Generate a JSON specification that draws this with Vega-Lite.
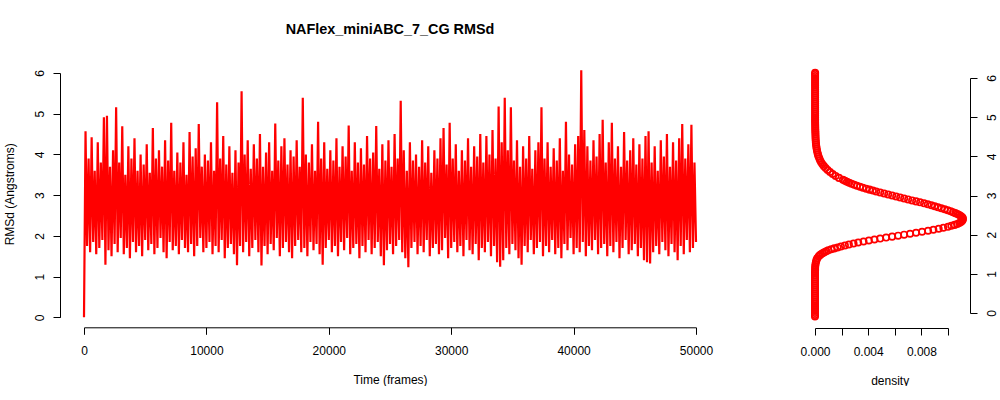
{
  "$schema": "https://vega.github.io/schema/vega-lite/v6.json",
  "padding": {"left": 3, "top": 22, "right": 0, "bottom": 0},
  "background": "white",
  "bounds": "flush",
  "spacing": 119,
  "config": {
    "view": {"stroke": null},
    "font": "Liberation Sans",
    "axis": {"grid": false, "domainColor": "#000", "tickColor": "#000", "labelColor": "#000", "titleColor": "#000", "labelFontSize": 12, "titleFontSize": 12, "titleFontWeight": "normal", "tickSize": 7, "domainWidth": 1, "tickWidth": 1, "labelFont": "Liberation Sans", "titleFont": "Liberation Sans", "labelFlush": false, "labelOverlap": false}
  },
  "datasets": {
    "ts": [
{"frame":0,"rmsd":0},{"frame":125,"rmsd":4.57},{"frame":250,"rmsd":1.75},{"frame":375,"rmsd":3.9},{"frame":500,"rmsd":1.6},{"frame":625,"rmsd":4.42},{"frame":750,"rmsd":1.85},{"frame":875,"rmsd":3.6},{"frame":1000,"rmsd":1.55},{"frame":1125,"rmsd":4.3},{"frame":1250,"rmsd":1.7},{"frame":1375,"rmsd":3.8},{"frame":1500,"rmsd":1.9},{"frame":1625,"rmsd":4.91},{"frame":1750,"rmsd":1.29},{"frame":1875,"rmsd":4.95},{"frame":2000,"rmsd":1.65},{"frame":2125,"rmsd":3.7},{"frame":2250,"rmsd":1.5},{"frame":2375,"rmsd":4.1},{"frame":2500,"rmsd":1.8},
{"frame":2625,"rmsd":5.16},{"frame":2750,"rmsd":1.6},{"frame":2875,"rmsd":3.8},{"frame":3000,"rmsd":1.95},{"frame":3125,"rmsd":4.69},{"frame":3250,"rmsd":1.55},{"frame":3375,"rmsd":3.5},{"frame":3500,"rmsd":1.7},{"frame":3625,"rmsd":4.2},{"frame":3750,"rmsd":1.45},{"frame":3875,"rmsd":3.9},{"frame":4000,"rmsd":1.85},{"frame":4125,"rmsd":4.4},{"frame":4250,"rmsd":1.6},{"frame":4375,"rmsd":3.6},{"frame":4500,"rmsd":1.75},{"frame":4625,"rmsd":4.0},{"frame":4750,"rmsd":1.5},{"frame":4875,"rmsd":3.75},{"frame":5000,"rmsd":1.9},
{"frame":5125,"rmsd":4.25},{"frame":5250,"rmsd":1.65},{"frame":5375,"rmsd":3.55},{"frame":5500,"rmsd":1.8},{"frame":5625,"rmsd":4.65},{"frame":5750,"rmsd":1.55},{"frame":5875,"rmsd":3.9},{"frame":6000,"rmsd":1.7},{"frame":6125,"rmsd":4.1},{"frame":6250,"rmsd":1.95},{"frame":6375,"rmsd":3.7},{"frame":6500,"rmsd":1.6},{"frame":6625,"rmsd":4.35},{"frame":6750,"rmsd":1.45},{"frame":6875,"rmsd":3.85},{"frame":7000,"rmsd":1.85},{"frame":7125,"rmsd":4.78},{"frame":7250,"rmsd":1.65},{"frame":7375,"rmsd":3.6},{"frame":7500,"rmsd":1.75},
{"frame":7625,"rmsd":4.05},{"frame":7750,"rmsd":1.55},{"frame":7875,"rmsd":3.8},{"frame":8000,"rmsd":1.9},{"frame":8125,"rmsd":4.3},{"frame":8250,"rmsd":1.7},{"frame":8375,"rmsd":3.5},{"frame":8500,"rmsd":1.6},{"frame":8625,"rmsd":4.55},{"frame":8750,"rmsd":1.8},{"frame":8875,"rmsd":3.95},{"frame":9000,"rmsd":1.5},{"frame":9125,"rmsd":4.15},{"frame":9250,"rmsd":1.75},{"frame":9375,"rmsd":4.75},{"frame":9500,"rmsd":1.95},{"frame":9625,"rmsd":3.7},{"frame":9750,"rmsd":1.6},{"frame":9875,"rmsd":4.0},{"frame":10000,"rmsd":1.7},
{"frame":10125,"rmsd":3.85},{"frame":10250,"rmsd":1.85},{"frame":10375,"rmsd":4.3},{"frame":10500,"rmsd":1.55},{"frame":10625,"rmsd":3.6},{"frame":10750,"rmsd":1.75},{"frame":10875,"rmsd":5.28},{"frame":11000,"rmsd":1.6},{"frame":11125,"rmsd":3.9},{"frame":11250,"rmsd":1.9},{"frame":11375,"rmsd":4.45},{"frame":11500,"rmsd":1.45},{"frame":11625,"rmsd":3.75},{"frame":11750,"rmsd":1.7},{"frame":11875,"rmsd":4.2},{"frame":12000,"rmsd":1.8},{"frame":12125,"rmsd":3.55},{"frame":12250,"rmsd":1.55},{"frame":12375,"rmsd":4.1},{"frame":12500,"rmsd":1.28},
{"frame":12625,"rmsd":3.8},{"frame":12750,"rmsd":1.75},{"frame":12875,"rmsd":5.55},{"frame":13000,"rmsd":1.6},{"frame":13125,"rmsd":4.0},{"frame":13250,"rmsd":1.85},{"frame":13375,"rmsd":4.35},{"frame":13500,"rmsd":1.5},{"frame":13625,"rmsd":3.65},{"frame":13750,"rmsd":1.7},{"frame":13875,"rmsd":4.25},{"frame":14000,"rmsd":1.9},{"frame":14125,"rmsd":3.9},{"frame":14250,"rmsd":1.6},{"frame":14375,"rmsd":4.5},{"frame":14500,"rmsd":1.27},{"frame":14625,"rmsd":3.7},{"frame":14750,"rmsd":1.75},{"frame":14875,"rmsd":4.05},{"frame":15000,"rmsd":1.55},
{"frame":15125,"rmsd":4.3},{"frame":15250,"rmsd":1.8},{"frame":15375,"rmsd":3.6},{"frame":15500,"rmsd":1.65},{"frame":15625,"rmsd":4.76},{"frame":15750,"rmsd":1.95},{"frame":15875,"rmsd":3.85},{"frame":16000,"rmsd":1.5},{"frame":16125,"rmsd":4.2},{"frame":16250,"rmsd":1.7},{"frame":16375,"rmsd":4.4},{"frame":16500,"rmsd":1.85},{"frame":16625,"rmsd":3.75},{"frame":16750,"rmsd":1.6},{"frame":16875,"rmsd":4.1},{"frame":17000,"rmsd":1.45},{"frame":17125,"rmsd":3.95},{"frame":17250,"rmsd":1.75},{"frame":17375,"rmsd":4.35},{"frame":17500,"rmsd":1.9},
{"frame":17625,"rmsd":3.7},{"frame":17750,"rmsd":1.6},{"frame":17875,"rmsd":5.39},{"frame":18000,"rmsd":1.7},{"frame":18125,"rmsd":4.0},{"frame":18250,"rmsd":1.5},{"frame":18375,"rmsd":3.8},{"frame":18500,"rmsd":1.85},{"frame":18625,"rmsd":4.25},{"frame":18750,"rmsd":1.65},{"frame":18875,"rmsd":3.6},{"frame":19000,"rmsd":1.8},{"frame":19125,"rmsd":4.8},{"frame":19250,"rmsd":1.55},{"frame":19375,"rmsd":3.9},{"frame":19500,"rmsd":1.29},{"frame":19625,"rmsd":4.3},{"frame":19750,"rmsd":1.7},{"frame":19875,"rmsd":3.65},{"frame":20000,"rmsd":1.9},
{"frame":20125,"rmsd":4.1},{"frame":20250,"rmsd":1.6},{"frame":20375,"rmsd":3.85},{"frame":20500,"rmsd":1.75},{"frame":20625,"rmsd":4.4},{"frame":20750,"rmsd":1.5},{"frame":20875,"rmsd":3.7},{"frame":21000,"rmsd":1.85},{"frame":21125,"rmsd":4.2},{"frame":21250,"rmsd":1.65},{"frame":21375,"rmsd":3.95},{"frame":21500,"rmsd":1.95},{"frame":21625,"rmsd":4.71},{"frame":21750,"rmsd":1.55},{"frame":21875,"rmsd":3.6},{"frame":22000,"rmsd":1.7},{"frame":22125,"rmsd":4.3},{"frame":22250,"rmsd":1.8},{"frame":22375,"rmsd":3.8},{"frame":22500,"rmsd":1.45},
{"frame":22625,"rmsd":4.15},{"frame":22750,"rmsd":1.75},{"frame":22875,"rmsd":3.75},{"frame":23000,"rmsd":1.6},{"frame":23125,"rmsd":4.45},{"frame":23250,"rmsd":1.9},{"frame":23375,"rmsd":3.9},{"frame":23500,"rmsd":1.55},{"frame":23625,"rmsd":4.05},{"frame":23750,"rmsd":1.7},{"frame":23875,"rmsd":4.7},{"frame":24000,"rmsd":1.85},{"frame":24125,"rmsd":3.65},{"frame":24250,"rmsd":1.5},{"frame":24375,"rmsd":4.25},{"frame":24500,"rmsd":1.28},{"frame":24625,"rmsd":3.85},{"frame":24750,"rmsd":1.65},{"frame":24875,"rmsd":4.35},{"frame":25000,"rmsd":1.8},
{"frame":25125,"rmsd":3.7},{"frame":25250,"rmsd":1.55},{"frame":25375,"rmsd":4.5},{"frame":25500,"rmsd":1.75},{"frame":25625,"rmsd":3.9},{"frame":25750,"rmsd":1.9},{"frame":25875,"rmsd":5.32},{"frame":26000,"rmsd":1.6},{"frame":26125,"rmsd":4.1},{"frame":26250,"rmsd":1.45},{"frame":26375,"rmsd":3.6},{"frame":26500,"rmsd":1.23},{"frame":26625,"rmsd":4.3},{"frame":26750,"rmsd":1.7},{"frame":26875,"rmsd":3.85},{"frame":27000,"rmsd":1.85},{"frame":27125,"rmsd":4.0},{"frame":27250,"rmsd":1.55},{"frame":27375,"rmsd":3.7},{"frame":27500,"rmsd":1.75},
{"frame":27625,"rmsd":4.35},{"frame":27750,"rmsd":1.6},{"frame":27875,"rmsd":3.8},{"frame":28000,"rmsd":1.9},{"frame":28125,"rmsd":4.2},{"frame":28250,"rmsd":1.5},{"frame":28375,"rmsd":3.55},{"frame":28500,"rmsd":1.7},{"frame":28625,"rmsd":4.1},{"frame":28750,"rmsd":1.8},{"frame":28875,"rmsd":3.9},{"frame":29000,"rmsd":1.55},{"frame":29125,"rmsd":4.4},{"frame":29250,"rmsd":1.65},{"frame":29375,"rmsd":4.65},{"frame":29500,"rmsd":1.95},{"frame":29625,"rmsd":3.75},{"frame":29750,"rmsd":1.45},{"frame":29875,"rmsd":4.78},{"frame":30000,"rmsd":1.7},
{"frame":30125,"rmsd":3.9},{"frame":30250,"rmsd":1.85},{"frame":30375,"rmsd":4.25},{"frame":30500,"rmsd":1.6},{"frame":30625,"rmsd":3.6},{"frame":30750,"rmsd":1.75},{"frame":30875,"rmsd":4.1},{"frame":31000,"rmsd":1.5},{"frame":31125,"rmsd":3.85},{"frame":31250,"rmsd":1.9},{"frame":31375,"rmsd":4.4},{"frame":31500,"rmsd":1.65},{"frame":31625,"rmsd":3.7},{"frame":31750,"rmsd":1.55},{"frame":31875,"rmsd":4.2},{"frame":32000,"rmsd":1.8},{"frame":32125,"rmsd":3.95},{"frame":32250,"rmsd":1.4},{"frame":32375,"rmsd":4.5},{"frame":32500,"rmsd":1.7},
{"frame":32625,"rmsd":3.8},{"frame":32750,"rmsd":1.6},{"frame":32875,"rmsd":4.45},{"frame":33000,"rmsd":1.85},{"frame":33125,"rmsd":4.0},{"frame":33250,"rmsd":1.5},{"frame":33375,"rmsd":4.6},{"frame":33500,"rmsd":1.75},{"frame":33625,"rmsd":3.9},{"frame":33750,"rmsd":1.35},{"frame":33875,"rmsd":5.18},{"frame":34000,"rmsd":1.24},{"frame":34125,"rmsd":4.3},{"frame":34250,"rmsd":1.4},{"frame":34375,"rmsd":5.39},{"frame":34500,"rmsd":1.7},{"frame":34625,"rmsd":4.1},{"frame":34750,"rmsd":1.55},{"frame":34875,"rmsd":5.16},{"frame":35000,"rmsd":1.8},
{"frame":35125,"rmsd":3.85},{"frame":35250,"rmsd":1.65},{"frame":35375,"rmsd":4.35},{"frame":35500,"rmsd":1.45},{"frame":35625,"rmsd":3.7},{"frame":35750,"rmsd":1.29},{"frame":35875,"rmsd":4.2},{"frame":36000,"rmsd":1.75},{"frame":36125,"rmsd":3.9},{"frame":36250,"rmsd":1.6},{"frame":36375,"rmsd":4.45},{"frame":36500,"rmsd":1.9},{"frame":36625,"rmsd":3.65},{"frame":36750,"rmsd":1.55},{"frame":36875,"rmsd":4.1},{"frame":37000,"rmsd":1.7},{"frame":37125,"rmsd":4.3},{"frame":37250,"rmsd":1.85},{"frame":37375,"rmsd":5.16},{"frame":37500,"rmsd":1.5},
{"frame":37625,"rmsd":3.9},{"frame":37750,"rmsd":1.75},{"frame":37875,"rmsd":4.3},{"frame":38000,"rmsd":1.6},{"frame":38125,"rmsd":3.7},{"frame":38250,"rmsd":1.9},{"frame":38375,"rmsd":4.15},{"frame":38500,"rmsd":1.55},{"frame":38625,"rmsd":3.85},{"frame":38750,"rmsd":1.7},{"frame":38875,"rmsd":4.4},{"frame":39000,"rmsd":1.45},{"frame":39125,"rmsd":3.6},{"frame":39250,"rmsd":1.8},{"frame":39375,"rmsd":4.8},{"frame":39500,"rmsd":1.65},{"frame":39625,"rmsd":4.0},{"frame":39750,"rmsd":1.95},{"frame":39875,"rmsd":3.75},{"frame":40000,"rmsd":1.55},
{"frame":40125,"rmsd":4.25},{"frame":40250,"rmsd":1.7},{"frame":40375,"rmsd":4.45},{"frame":40500,"rmsd":1.6},{"frame":40625,"rmsd":6.07},{"frame":40750,"rmsd":1.85},{"frame":40875,"rmsd":4.6},{"frame":41000,"rmsd":1.5},{"frame":41125,"rmsd":4.2},{"frame":41250,"rmsd":1.75},{"frame":41375,"rmsd":3.85},{"frame":41500,"rmsd":1.65},{"frame":41625,"rmsd":4.35},{"frame":41750,"rmsd":1.9},{"frame":41875,"rmsd":3.95},{"frame":42000,"rmsd":1.55},{"frame":42125,"rmsd":4.5},{"frame":42250,"rmsd":1.7},{"frame":42375,"rmsd":4.85},{"frame":42500,"rmsd":1.8},
{"frame":42625,"rmsd":3.8},{"frame":42750,"rmsd":1.5},{"frame":42875,"rmsd":4.3},{"frame":43000,"rmsd":1.75},{"frame":43125,"rmsd":4.78},{"frame":43250,"rmsd":1.6},{"frame":43375,"rmsd":3.9},{"frame":43500,"rmsd":1.85},{"frame":43625,"rmsd":4.2},{"frame":43750,"rmsd":1.45},{"frame":43875,"rmsd":3.7},{"frame":44000,"rmsd":1.7},{"frame":44125,"rmsd":4.55},{"frame":44250,"rmsd":1.9},{"frame":44375,"rmsd":3.85},{"frame":44500,"rmsd":1.55},{"frame":44625,"rmsd":4.1},{"frame":44750,"rmsd":1.65},{"frame":44875,"rmsd":4.4},{"frame":45000,"rmsd":1.8},
{"frame":45125,"rmsd":3.75},{"frame":45250,"rmsd":1.5},{"frame":45375,"rmsd":4.25},{"frame":45500,"rmsd":1.7},{"frame":45625,"rmsd":3.9},{"frame":45750,"rmsd":1.4},{"frame":45875,"rmsd":4.45},{"frame":46000,"rmsd":1.35},{"frame":46125,"rmsd":4.57},{"frame":46250,"rmsd":1.32},{"frame":46375,"rmsd":3.8},{"frame":46500,"rmsd":1.6},{"frame":46625,"rmsd":4.2},{"frame":46750,"rmsd":1.75},{"frame":46875,"rmsd":3.6},{"frame":47000,"rmsd":1.55},{"frame":47125,"rmsd":4.35},{"frame":47250,"rmsd":1.85},{"frame":47375,"rmsd":3.95},{"frame":47500,"rmsd":1.65},
{"frame":47625,"rmsd":4.5},{"frame":47750,"rmsd":1.5},{"frame":47875,"rmsd":3.7},{"frame":48000,"rmsd":1.8},{"frame":48125,"rmsd":4.3},{"frame":48250,"rmsd":1.6},{"frame":48375,"rmsd":3.85},{"frame":48500,"rmsd":1.4},{"frame":48625,"rmsd":4.4},{"frame":48750,"rmsd":1.75},{"frame":48875,"rmsd":4.75},{"frame":49000,"rmsd":1.55},{"frame":49125,"rmsd":3.9},{"frame":49250,"rmsd":1.9},{"frame":49375,"rmsd":4.25},{"frame":49500,"rmsd":1.6},{"frame":49625,"rmsd":4.73},{"frame":49750,"rmsd":1.7},{"frame":49875,"rmsd":3.8},{"frame":50000,"rmsd":1.85}
    ],
    "dens": [
{"rmsd":-0.09,"density":0},{"rmsd":-0.05,"density":0},{"rmsd":0,"density":0},{"rmsd":0.05,"density":0},{"rmsd":0.1,"density":0},{"rmsd":0.15,"density":0},{"rmsd":0.2,"density":0},{"rmsd":0.25,"density":0},{"rmsd":0.3,"density":0},{"rmsd":0.35,"density":0},{"rmsd":0.4,"density":0},{"rmsd":0.45,"density":0},{"rmsd":0.5,"density":0},{"rmsd":0.55,"density":0},{"rmsd":0.6,"density":0},{"rmsd":0.65,"density":0},{"rmsd":0.7,"density":0},{"rmsd":0.75,"density":0},{"rmsd":0.8,"density":0},{"rmsd":0.85,"density":0},{"rmsd":0.9,"density":0},{"rmsd":0.95,"density":0},{"rmsd":1.0,"density":0},{"rmsd":1.05,"density":0},{"rmsd":1.1,"density":0.00001},{"rmsd":1.15,"density":0.00001},
{"rmsd":1.2,"density":0.00002},{"rmsd":1.25,"density":0.00004},{"rmsd":1.3,"density":0.00007},{"rmsd":1.35,"density":0.00011},{"rmsd":1.4,"density":0.00017},{"rmsd":1.45,"density":0.00028},{"rmsd":1.475,"density":0.00036},
{"rmsd":1.5,"density":0.00045},{"rmsd":1.525,"density":0.00057},{"rmsd":1.55,"density":0.0007},{"rmsd":1.575,"density":0.00085},{"rmsd":1.6,"density":0.001},{"rmsd":1.625,"density":0.00122},{"rmsd":1.65,"density":0.00145},{"rmsd":1.675,"density":0.0017},{"rmsd":1.7,"density":0.00195},{"rmsd":1.725,"density":0.00225},{"rmsd":1.75,"density":0.00255},{"rmsd":1.775,"density":0.0029},{"rmsd":1.8,"density":0.00325},{"rmsd":1.825,"density":0.00365},{"rmsd":1.85,"density":0.00405},{"rmsd":1.875,"density":0.00447},{"rmsd":1.9,"density":0.0049},{"rmsd":1.925,"density":0.00535},{"rmsd":1.95,"density":0.0058},{"rmsd":1.975,"density":0.00625},
{"rmsd":2.0,"density":0.0067},{"rmsd":2.025,"density":0.00715},{"rmsd":2.05,"density":0.0076},{"rmsd":2.075,"density":0.00805},{"rmsd":2.1,"density":0.0085},{"rmsd":2.125,"density":0.0089},{"rmsd":2.15,"density":0.0093},{"rmsd":2.175,"density":0.00965},{"rmsd":2.2,"density":0.01},{"rmsd":2.225,"density":0.01025},{"rmsd":2.25,"density":0.0105},{"rmsd":2.275,"density":0.0107},{"rmsd":2.3,"density":0.01085},{"rmsd":2.325,"density":0.01097},{"rmsd":2.35,"density":0.01105},{"rmsd":2.375,"density":0.0111},{"rmsd":2.4,"density":0.01112},{"rmsd":2.425,"density":0.01111},{"rmsd":2.45,"density":0.01105},{"rmsd":2.475,"density":0.01096},
{"rmsd":2.5,"density":0.01085},{"rmsd":2.525,"density":0.01071},{"rmsd":2.55,"density":0.01055},{"rmsd":2.575,"density":0.01038},{"rmsd":2.6,"density":0.0102},{"rmsd":2.625,"density":0.00998},{"rmsd":2.65,"density":0.00975},{"rmsd":2.675,"density":0.0095},{"rmsd":2.7,"density":0.00925},{"rmsd":2.725,"density":0.009},{"rmsd":2.75,"density":0.00875},{"rmsd":2.775,"density":0.00848},{"rmsd":2.8,"density":0.0082},{"rmsd":2.825,"density":0.0079},{"rmsd":2.85,"density":0.0076},{"rmsd":2.875,"density":0.0073},{"rmsd":2.9,"density":0.007},{"rmsd":2.925,"density":0.0067},{"rmsd":2.95,"density":0.0064},{"rmsd":2.975,"density":0.0061},
{"rmsd":3.0,"density":0.0058},{"rmsd":3.025,"density":0.0055},{"rmsd":3.05,"density":0.0052},{"rmsd":3.075,"density":0.0049},{"rmsd":3.1,"density":0.0046},{"rmsd":3.125,"density":0.00435},{"rmsd":3.15,"density":0.0041},{"rmsd":3.175,"density":0.00385},{"rmsd":3.2,"density":0.0036},{"rmsd":3.225,"density":0.00338},{"rmsd":3.25,"density":0.00315},{"rmsd":3.275,"density":0.00295},{"rmsd":3.3,"density":0.00275},{"rmsd":3.325,"density":0.00257},{"rmsd":3.35,"density":0.0024},{"rmsd":3.375,"density":0.00225},{"rmsd":3.4,"density":0.0021},{"rmsd":3.45,"density":0.0018},{"rmsd":3.5,"density":0.00155},{"rmsd":3.55,"density":0.00133},{"rmsd":3.6,"density":0.00113},{"rmsd":3.65,"density":0.00095},{"rmsd":3.7,"density":0.0008},{"rmsd":3.75,"density":0.00067},{"rmsd":3.8,"density":0.00056},{"rmsd":3.85,"density":0.00046},{"rmsd":3.9,"density":0.00038},{"rmsd":3.95,"density":0.00032},
{"rmsd":4.0,"density":0.00026},{"rmsd":4.05,"density":0.00022},{"rmsd":4.1,"density":0.00018},{"rmsd":4.15,"density":0.00015},{"rmsd":4.2,"density":0.00012},{"rmsd":4.25,"density":0.0001},{"rmsd":4.3,"density":0.00008},{"rmsd":4.35,"density":0.000065},{"rmsd":4.4,"density":0.000055},{"rmsd":4.45,"density":0.000045},{"rmsd":4.5,"density":0.00004},{"rmsd":4.55,"density":0.000035},{"rmsd":4.6,"density":0.00003},{"rmsd":4.65,"density":0.000025},{"rmsd":4.7,"density":0.00002},{"rmsd":4.75,"density":0.000018},{"rmsd":4.8,"density":0.000015},{"rmsd":4.85,"density":0.000012},{"rmsd":4.9,"density":0.00001},{"rmsd":4.95,"density":0.00001},
{"rmsd":5.0,"density":0.00001},{"rmsd":5.05,"density":0.00001},{"rmsd":5.1,"density":0.00001},{"rmsd":5.15,"density":0.00001},{"rmsd":5.2,"density":0.00001},{"rmsd":5.25,"density":0.00001},{"rmsd":5.3,"density":0.00001},{"rmsd":5.35,"density":0.00001},{"rmsd":5.4,"density":0.00001},{"rmsd":5.45,"density":0.00001},{"rmsd":5.5,"density":0.00001},{"rmsd":5.55,"density":0.00001},{"rmsd":5.6,"density":0.00001},{"rmsd":5.65,"density":0.00001},{"rmsd":5.7,"density":0.00001},{"rmsd":5.75,"density":0.00001},{"rmsd":5.8,"density":0.00001},{"rmsd":5.85,"density":0.00001},{"rmsd":5.9,"density":0.00001},{"rmsd":5.95,"density":0.00001},{"rmsd":6.0,"density":0.00001},{"rmsd":6.05,"density":0.00001},{"rmsd":6.1,"density":0.00001},{"rmsd":6.135,"density":0.00001}
    ]
  },
  "hconcat": [
    {
      "width": 612,
      "height": 244.3,
      "title": {"text": "NAFlex_miniABC_7_CG RMSd", "fontSize": 14.4, "fontWeight": "bold", "font": "Liberation Sans", "anchor": "middle", "frame": "group", "baseline": "alphabetic", "offset": 17, "color": "#000"},
      "data": {"name": "ts"},
      "mark": {"type": "line", "color": "#ff0000", "strokeWidth": 2.2, "clip": false},
      "encoding": {
        "x": {"field": "frame", "type": "quantitative", "scale": {"domain": [0, 50000], "nice": false, "zero": false},
              "axis": {"title": "Time (frames)", "values": [0, 10000, 20000, 30000, 40000, 50000], "format": "d", "offset": 10, "labelBaseline": "alphabetic", "labelPadding": 20.3, "titleBaseline": "alphabetic", "titleY": 56}},
        "y": {"field": "rmsd", "type": "quantitative", "scale": {"domain": [0, 6], "nice": false, "zero": false},
              "axis": {"title": "RMSd (Angstroms)", "values": [0, 1, 2, 3, 4, 5, 6], "offset": 24, "labelAngle": -90, "labelAlign": "center", "labelBaseline": "alphabetic", "labelPadding": 10, "titleAngle": -90, "titleBaseline": "alphabetic", "titleAlign": "center", "titleX": -46.8, "titleY": 120.8}}
      }
    },
    {
      "spacing": 0,
      "bounds": "flush",
      "vconcat": [
        {"width": 133, "height": 4.3, "data": {"values": []}, "mark": "point", "encoding": {}},
        {
          "width": 133,
          "height": 235,
          "data": {"name": "dens"},
          "mark": {"type": "point", "shape": "circle", "filled": false, "color": "#ff0000", "strokeWidth": 1.7, "size": 40, "opacity": 1, "clip": false},
          "encoding": {
            "x": {"field": "density", "type": "quantitative", "scale": {"domain": [0, 0.01], "nice": false, "zero": false},
                  "axis": {"title": "density", "values": [0, 0.002, 0.004, 0.006, 0.008, 0.01], "labelExpr": "round(datum.value*1000) % 4 == 0 ? format(datum.value, '.3f') : ''", "offset": 15, "labelBaseline": "alphabetic", "labelPadding": 20.3, "titleBaseline": "alphabetic", "titleY": 56, "titleX": 74.7}},
            "y": {"field": "rmsd", "type": "quantitative", "scale": {"domain": [0, 6], "nice": false, "zero": false},
                  "axis": {"orient": "right", "title": null, "values": [0, 1, 2, 3, 4, 5, 6], "offset": 22, "labelAngle": -90, "labelAlign": "center", "labelBaseline": "alphabetic", "labelPadding": 18.8}}
          }
        }
      ]
    }
  ]
}
